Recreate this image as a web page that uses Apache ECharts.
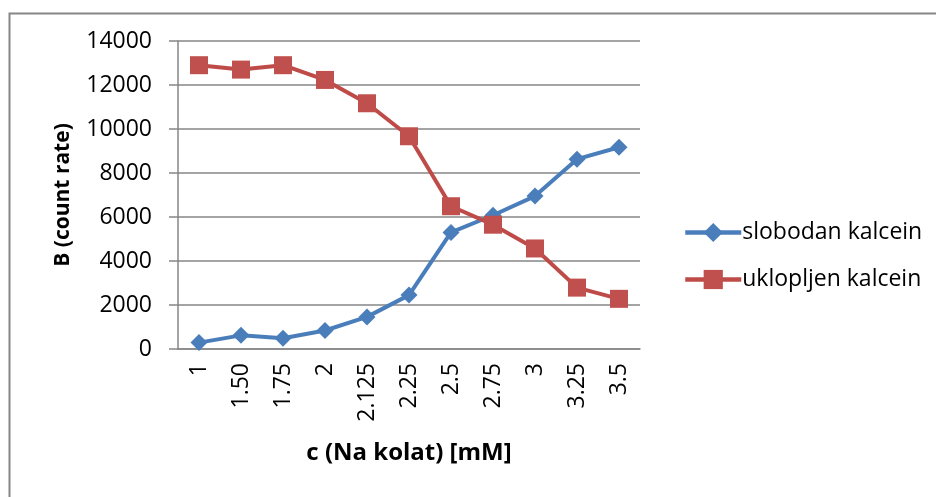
<!DOCTYPE html>
<html>
<head>
<meta charset="utf-8">
<script src="https://cdn.jsdelivr.net/npm/echarts@6/dist/echarts.min.js"></script>
<style>
html,body{margin:0;padding:0;background:#fff;}
#chart{width:936px;height:497px;}
</style>
</head>
<body>
<div id="chart"></div>
<script>
const categories = ['1','1.50','1.75','2','2.125','2.25','2.5','2.75','3','3.25','3.5'];
const slobodan = [290, 620, 490, 840, 1460, 2450, 5300, 6080, 6950, 8630, 9170];
const uklopljen = [12900, 12700, 12900, 12230, 11170, 9670, 6490, 5650, 4570, 2790, 2280];
const seriesNames = ['slobodan kalcein', 'uklopljen kalcein'];

const FONT = '"Open Sans", sans-serif';
const GRAY = '#868686';
const chart = echarts.init(document.getElementById('chart'));
chart.setOption({
  animation: false,
  backgroundColor: '#fff',
  textStyle: { fontFamily: FONT, color: '#000' },
  graphic: [{
    type: 'rect', left: 7, top: 11,
    shape: { width: 960, height: 520 },
    style: { fill: 'none', stroke: GRAY, lineWidth: 2 }
  }],
  grid: { left: 178, right: 296, top: 41, bottom: 148, containLabel: false },
  legend: {
    orient: 'vertical', left: 678, top: 216, itemGap: 24,
    itemWidth: 56, itemHeight: 24,
    lineStyle: { width: 4.5 },
    textStyle: { fontFamily: FONT, fontSize: 23, color: '#000', padding: [0,0,0,-4] },
    data: seriesNames
  },
  xAxis: {
    type: 'category', data: categories, boundaryGap: true,
    axisLine: { lineStyle: { color: GRAY, width: 1.5 } },
    axisTick: { show: false },
    axisLabel: { rotate: 90, fontSize: 23, color: '#000', margin: 14, fontFamily: FONT, interval: 0 },
    name: 'c (Na kolat) [mM]', nameLocation: 'middle', nameGap: 92,
    nameTextStyle: { fontSize: 24, fontWeight: 'bold', color: '#000', fontFamily: FONT }
  },
  yAxis: {
    type: 'value', min: 0, max: 14000, interval: 2000,
    axisLine: { show: true, lineStyle: { color: GRAY, width: 1.5 } },
    axisTick: { show: true, length: 9, lineStyle: { color: GRAY, width: 1.5 } },
    splitLine: { lineStyle: { color: GRAY, width: 1.5 } },
    axisLabel: { fontSize: 23, color: '#000', margin: 26, fontFamily: FONT, formatter: v => String(v) },
    name: 'B (count rate)', nameLocation: 'middle', nameGap: 104,
    nameTextStyle: { fontSize: 21, fontWeight: 'bold', color: '#000', fontFamily: FONT }
  },
  series: [
    {
      name: seriesNames[0], type: 'line', data: slobodan,
      symbol: 'diamond', symbolSize: 17,
      lineStyle: { color: '#4A7EBB', width: 4 },
      itemStyle: { color: '#4A7EBB' }
    },
    {
      name: seriesNames[1], type: 'line', data: uklopljen,
      symbol: 'rect', symbolSize: 18,
      lineStyle: { color: '#BE4B48', width: 4 },
      itemStyle: { color: '#C0504D' }
    }
  ]
});
</script>
</body>
</html>
